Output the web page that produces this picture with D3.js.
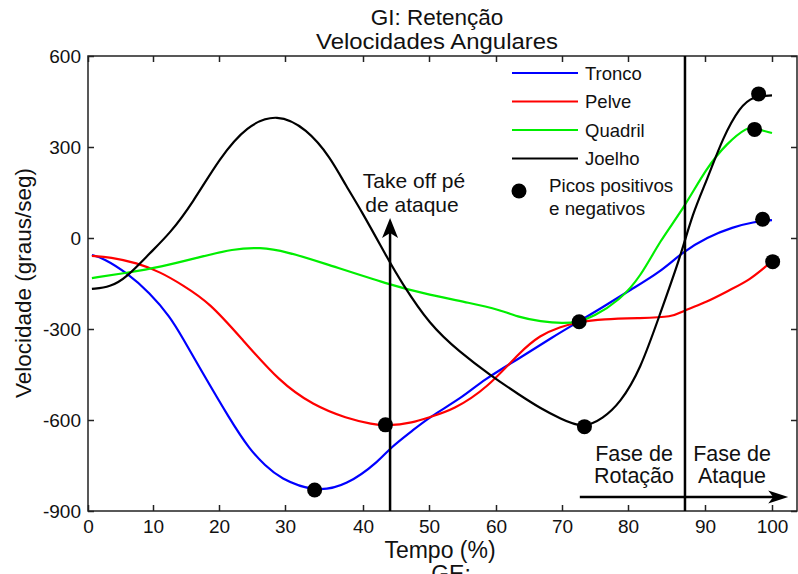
<!DOCTYPE html>
<html><head><meta charset="utf-8">
<script src="https://cdn.jsdelivr.net/npm/d3@7"></script>
<style>body{margin:0;background:#fff;} text{font-family:"Liberation Sans",Arial,sans-serif;fill:#111;}</style>
</head><body><svg id="c" width="798" height="574"></svg>
<script>
// ---------- data ----------
const xTicks=[0,10,20,30,40,50,60,70,80,90,100];
const yTicks=[-900,-600,-300,0,300,600];
const seriesNames=["Tronco","Pelve","Quadril","Joelho"];
const tronco=[[0.6,-56],[2.3,-66],[6.0,-115],[9.5,-181],[12.6,-260],[14.5,-330],[17.1,-429],[21.7,-600],[24.7,-699],[27.0,-750],[29.2,-792],[33.8,-838],[37.9,-817],[42.6,-732],[44.1,-692],[47.6,-633],[50.1,-590],[55.1,-524],[58.1,-468],[63.6,-396],[68.6,-326],[72.4,-277],[76.2,-228],[80.3,-171],[84.2,-112],[87.1,-46],[90.3,3],[94.2,36],[97.2,53],[100,59]];
const pelve=[[0.6,-59],[3.4,-63],[7.5,-82],[11.1,-112],[14.5,-155],[18.6,-214],[23.2,-326],[29.2,-475],[33.6,-551],[37.9,-595],[41.5,-614],[43.5,-620],[47.6,-609],[50.1,-590],[53.6,-567],[58.7,-495],[63.6,-376],[66.7,-320],[69.7,-293],[72.4,-277],[76.2,-267],[81.6,-264],[85.8,-261],[87.1,-240],[90.3,-211],[93.7,-171],[96.7,-138],[99.3,-89],[100,-79]];
const quadril=[[0.6,-132],[6.0,-115],[11.1,-96],[17.1,-63],[22.1,-36],[26.2,-30],[30.3,-46],[34.5,-79],[44.1,-155],[50.1,-188],[56.1,-214],[60.6,-237],[63.6,-262],[66.7,-275],[70.2,-282],[72.4,-277],[74.7,-261],[78.8,-204],[81.6,-129],[84.2,-7],[87.1,92],[90.3,234],[93.3,313],[96.3,366],[97.3,362],[100,346]];
const joelho=[[0.6,-168],[3.4,-162],[6.0,-129],[9.5,-50],[12.6,16],[15.9,112],[20.2,267],[24.2,370],[28.8,412],[32.8,360],[35.8,267],[37.9,168],[39.6,99],[44.1,-82],[45.6,-138],[50.1,-287],[54.6,-376],[59.1,-452],[63.6,-518],[66.7,-561],[69.7,-595],[73.2,-628],[76.2,-595],[78.8,-544],[81.6,-435],[84.2,-247],[86.8,-63],[88.4,82],[90.3,191],[92.7,333],[95.2,432],[97.2,468],[100,470]];
const peaks=[[33.8,-831],[98.6,62],[43.4,-616],[100.1,-78],[72.6,-276],[97.4,358],[73.4,-622],[98.0,475]];
const takeOffX=44.1, takeOffTop=66;
const phaseX=87.4;
const phaseArrow=[72.7,102.4,-854];

// ---------- layout ----------
const svg=d3.select("#c");
const xDom=[0,10,20,30,40,50,60,70,80,90,100,103.7];
const xRange=[88,153,219,285,363,429,496,562,628,705,772,797];
const x=d3.scaleLinear().domain(xDom).range(xRange);
const y=d3.scaleLinear().domain([-900,600]).range([511,56]);
const L=88,R=797,T=56,B=511;
const colors=["#0000ff","#ff0000","#00ee00","#000000"];
const series=[tronco,pelve,quadril,joelho];
const fmt=d=>String(d);

// ticks
const gb=svg.append("g").attr("transform",`translate(0,${B})`)
  .call(d3.axisBottom(x).tickValues(xTicks).tickFormat(fmt).tickSizeInner(-6).tickSizeOuter(0).tickPadding(8.5));
const gt=svg.append("g").attr("transform",`translate(0,${T})`)
  .call(d3.axisTop(x).tickValues(xTicks).tickSizeInner(-6).tickSizeOuter(0).tickFormat(""));
const gl=svg.append("g").attr("transform",`translate(${L},0)`)
  .call(d3.axisLeft(y).tickValues(yTicks).tickFormat(fmt).tickSizeInner(-6).tickSizeOuter(0).tickPadding(7));
const gr=svg.append("g").attr("transform",`translate(${R},0)`)
  .call(d3.axisRight(y).tickValues(yTicks).tickSizeInner(-6).tickSizeOuter(0).tickFormat(""));
[gb,gt,gl,gr].forEach(g=>{
  g.select(".domain").remove();
  g.selectAll(".tick line").attr("stroke","#222").attr("stroke-width",1.5);
  g.selectAll("text").attr("font-size",19).attr("font-family","Liberation Sans, Arial, sans-serif").attr("fill","#1a1a2a");
});
svg.append("rect").attr("x",L).attr("y",T).attr("width",R-L).attr("height",B-T)
  .attr("fill","none").attr("stroke","#222").attr("stroke-width",1.5);

// curves
const line=d3.line().x(d=>x(d[0])).y(d=>y(d[1])).curve(d3.curveBasis);
series.forEach((s,i)=>{
  svg.append("path").datum(s).attr("d",line).attr("fill","none")
    .attr("stroke",colors[i]).attr("stroke-width",2.2);
});

// take-off arrow
svg.append("line").attr("x1",x(takeOffX)).attr("x2",x(takeOffX)).attr("y1",y(-900)).attr("y2",y(takeOffTop)+6)
  .attr("stroke","#000").attr("stroke-width",2.5);
{
  const tx=x(takeOffX), ty=y(takeOffTop);
  svg.append("path").attr("d",`M${tx},${ty} L${tx+8},${ty+20} L${tx},${ty+15} L${tx-8},${ty+20} Z`).attr("fill","#000");
}
// phase line
svg.append("line").attr("x1",x(phaseX)).attr("x2",x(phaseX)).attr("y1",y(-900)).attr("y2",y(600))
  .attr("stroke","#000").attr("stroke-width",2.5);
// horizontal arrow
{
  const x1=x(phaseArrow[0]), x2=x(phaseArrow[1]), yy=y(phaseArrow[2]);
  svg.append("line").attr("x1",x1).attr("x2",x2-8).attr("y1",yy).attr("y2",yy).attr("stroke","#000").attr("stroke-width",2.5);
  svg.append("path").attr("d",`M${x2},${yy} L${x2-20},${yy-6.5} L${x2-15},${yy} L${x2-20},${yy+6.5} Z`).attr("fill","#000");
}

// peaks
svg.append("g").selectAll("circle").data(peaks).join("circle")
  .attr("cx",d=>x(d[0])).attr("cy",d=>y(d[1])).attr("r",7.5).attr("fill","#000");

// titles
svg.append("text").attr("x",437).attr("y",25).attr("text-anchor","middle").attr("font-size",22.5).text("GI: Retenção");
svg.append("text").attr("x",437).attr("y",49).attr("text-anchor","middle").attr("font-size",22.5)
  .attr("textLength",242).attr("lengthAdjust","spacingAndGlyphs").text("Velocidades Angulares");
svg.append("text").attr("x",440).attr("y",558).attr("text-anchor","middle").attr("font-size",23).text("Tempo (%)");
svg.append("text").attr("x",451).attr("y",582).attr("text-anchor","middle").attr("font-size",23).text("GE:");
svg.append("text").attr("transform","translate(31,283) rotate(-90)").attr("text-anchor","middle").attr("font-size",22.5)
  .text("Velocidade (graus/seg)");

// annotations
svg.append("text").attr("x",414).attr("y",188).attr("text-anchor","middle").attr("font-size",21).text("Take off pé");
svg.append("text").attr("x",412).attr("y",212).attr("text-anchor","middle").attr("font-size",21).text("de ataque");
svg.append("text").attr("x",634).attr("y",461).attr("text-anchor","middle").attr("font-size",21.5).text("Fase de");
svg.append("text").attr("x",634).attr("y",483).attr("text-anchor","middle").attr("font-size",21.5).text("Rotação");
svg.append("text").attr("x",732).attr("y",461).attr("text-anchor","middle").attr("font-size",21.5).text("Fase de");
svg.append("text").attr("x",732).attr("y",483).attr("text-anchor","middle").attr("font-size",21.5).text("Ataque");

// legend
const leg=svg.append("g");
seriesNames.forEach((n,i)=>{
  const yy=73+i*28.5;
  leg.append("line").attr("x1",512).attr("x2",578).attr("y1",yy).attr("y2",yy).attr("stroke",colors[i]).attr("stroke-width",2.2);
  leg.append("text").attr("x",585).attr("y",yy+6.5).attr("font-size",18.5).text(n);
});
leg.append("circle").attr("cx",519).attr("cy",191).attr("r",7.5).attr("fill","#000");
leg.append("text").attr("x",549).attr("y",192).attr("font-size",18.8).text("Picos positivos");
leg.append("text").attr("x",549).attr("y",215).attr("font-size",18.8).text("e negativos");
</script></body></html>
